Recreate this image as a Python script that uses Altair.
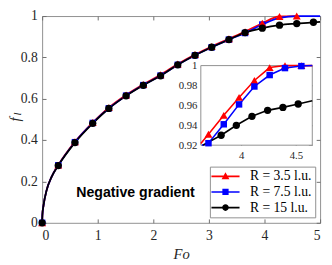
import altair as alt
import pandas as pd

series = ["R = 3.5 l.u.", "R = 7.5 l.u.", "R = 15 l.u."]
colors = ["#ff0000", "#0000ff", "#000000"]

# ---- main plot: marker points ----
fo_main = [0, 0.29, 0.59, 0.91, 1.20, 1.51, 1.82, 2.13, 2.44, 2.75, 3.05, 3.36, 3.65, 3.96, 4.27, 4.58, 4.88]
f_red = [0, 0.279, 0.392, 0.485, 0.557, 0.618, 0.669, 0.716, 0.768, 0.814, 0.853, 0.890, 0.925, 0.965, 0.998, 1.0]
f_blue = [0, 0.278, 0.390, 0.483, 0.554, 0.615, 0.666, 0.712, 0.764, 0.810, 0.849, 0.886, 0.918, 0.959]
f_black = [0, 0.277, 0.388, 0.481, 0.553, 0.614, 0.665, 0.711, 0.764, 0.810, 0.849, 0.886, 0.920, 0.9415, 0.956, 0.9635, 0.970]

# line-only points: steep start near Fo = 0, and the tails without markers
fo_start = [0.005, 0.025, 0.08, 0.17]
f_start = [0.04, 0.084, 0.157, 0.222]
fo_red_end, f_red_end = [], []
fo_blue_end, f_blue_end = [4.27, 4.58, 5.0], [0.991, 1.0, 1.0]
fo_black_end, f_black_end = [5.0], [0.972]

# ---- inset ----
ins_fo_rb = [3.70, 3.84, 3.98, 4.12, 4.26, 4.40, 4.55]
ins_red = [0.931, 0.950, 0.968, 0.985, 0.998, 1.0, 1.0]
ins_blue = [0.922, 0.941, 0.961, 0.979, 0.9905, 0.9975, 0.9995]
ins_fo_k = [3.816, 3.955, 4.098, 4.241, 4.381, 4.521]
ins_black = [0.930, 0.940, 0.949, 0.955, 0.958, 0.9614]
ins_entry_fo = [3.63, 3.64, 3.65]
ins_entry_f = [0.9217, 0.920, 0.920]
ins_exit_fo = [4.65, 4.65, 4.65]
ins_exit_f = [1.0, 1.0, 0.9646]

x_ticks = [0, 1, 2, 3, 4, 5]
y_ticks = [0, 0.2, 0.4, 0.6, 0.8, 1]
ins_x_ticks = [4, 4.5]
ins_y_ticks = [0.92, 0.94, 0.96, 0.98, 1]
X_DOM = [0, 5]
Y_DOM = [0, 1]
INS_X_DOM = [3.63, 4.65]
INS_Y_DOM = [0.92, 1.0]

# ---- build tables ----
main_vals = [f_red, f_blue, f_black]
ends = [(fo_red_end, f_red_end), (fo_blue_end, f_blue_end), (fo_black_end, f_black_end)]
pts_rows, line_rows = [], []
for i, s in enumerate(series):
    vals = main_vals[i]
    for fo, f in zip(fo_main[:len(vals)], vals):
        pts_rows.append({"series": s, "Fo": fo, "f": f})
    xs = [0] + fo_start + fo_main[1:len(vals)] + ends[i][0]
    ys = [0] + f_start + vals[1:] + ends[i][1]
    for fo, f in zip(xs, ys):
        line_rows.append({"series": s, "Fo": fo, "f": f})
pts = pd.DataFrame(pts_rows)
lines = pd.DataFrame(line_rows)

ins_pts_rows, ins_line_rows = [], []
ins_sets = [(ins_fo_rb, ins_red), (ins_fo_rb, ins_blue), (ins_fo_k, ins_black)]
for i, s in enumerate(series):
    xs, ys = ins_sets[i]
    for fo, f in zip(xs, ys):
        ins_pts_rows.append({"series": s, "Fo": fo, "f": f})
    lx = [ins_entry_fo[i]] + xs + [ins_exit_fo[i]]
    ly = [ins_entry_f[i]] + ys + [ins_exit_f[i]]
    for fo, f in zip(lx, ly):
        ins_line_rows.append({"series": s, "Fo": fo, "f": f})
ins_pts = pd.DataFrame(ins_pts_rows)
ins_lines = pd.DataFrame(ins_line_rows)

# ---- layout ----
W, H = 285, 212
IX0, IX1 = 162.7, 277.0
IY_TOP, IY_BOT = 50.8, 132.4
FRAME = "#8f8f8f"
TXT = "#262626"
TICK = "#6e6e6e"

color_scale = alt.Scale(domain=series, range=colors)
xs_main = alt.Scale(domain=X_DOM, nice=False, zero=False)
ys_main = alt.Scale(domain=Y_DOM, nice=False, zero=False)
xs_ins = alt.Scale(domain=INS_X_DOM, range=[IX0, IX1], nice=False, zero=False)
ys_ins = alt.Scale(domain=INS_Y_DOM, range=[IY_BOT, IY_TOP], nice=False, zero=False)

def tick_axis(orient, offset, values):
    return alt.Axis(orient=orient, offset=offset, values=values, labels=False,
                    domain=False, grid=False, ticks=True, tickSize=4,
                    tickColor=TICK, tickWidth=1, title=None)

marker = {"triangle-up": 66, "square": 44, "circle": 56}
shapes = ["triangle-up", "square", "circle"]

def point_layer(df, i, xscale, yscale, xaxis, yaxis):
    return alt.Chart(df[df.series == series[i]]).mark_point(
        shape=shapes[i], filled=True, size=marker[shapes[i]], opacity=1,
        color=colors[i]).encode(
        x=alt.X("Fo:Q", scale=xscale, axis=xaxis),
        y=alt.Y("f:Q", scale=yscale, axis=yaxis))

def line_layer(df, i, xscale, yscale, xaxis, yaxis, width, interp):
    return alt.Chart(df[df.series == series[i]]).mark_line(
        strokeWidth=width, interpolate=interp, color=colors[i]).encode(
        x=alt.X("Fo:Q", scale=xscale, axis=xaxis),
        y=alt.Y("f:Q", scale=yscale, axis=yaxis),
        order=alt.Order("Fo:Q"))

main_x_axis = alt.Axis(
    values=x_ticks, ticks=False, domain=False, grid=False, labelPadding=6,
    title="Fo", titleFont="Liberation Serif", titleFontStyle="italic",
    titleFontWeight="normal", titleFontSize=15, titleColor=TXT, titlePadding=5)
main_y_axis = alt.Axis(values=y_ticks, ticks=False, domain=False, grid=False,
                       format="~g", labelPadding=5, title=None)

l_red = line_layer(lines, 0, xs_main, ys_main, main_x_axis, main_y_axis, 1.8, "monotone")
l_blue = line_layer(lines, 1, xs_main, ys_main, None, None, 1.8, "monotone")
l_black = line_layer(lines, 2, xs_main, ys_main, None, None, 1.8, "monotone")
p_red = point_layer(pts, 0, xs_main, ys_main, tick_axis("top", -H, x_ticks), tick_axis("right", -W, y_ticks))
p_blue = point_layer(pts, 1, xs_main, ys_main, tick_axis("bottom", -H, x_ticks), tick_axis("left", -W, y_ticks))
p_black = point_layer(pts, 2, xs_main, ys_main, None, None)

note = alt.Chart(pd.DataFrame({"t": ["Negative gradient"]})).mark_text(
    align="left", baseline="middle", font="Liberation Sans", fontWeight="bold",
    fontSize=14.5, color="black").encode(x=alt.value(35), y=alt.value(181.5), text="t:N")

ytitle_f = alt.Chart(pd.DataFrame({"t": ["f"]})).mark_text(
    angle=270, align="center", baseline="middle", font="Liberation Serif",
    fontStyle="italic", fontSize=15, color=TXT).encode(
    x=alt.value(-28), y=alt.value(106), text="t:N")
ytitle_l = alt.Chart(pd.DataFrame({"t": ["l"]})).mark_text(
    angle=270, align="center", baseline="middle", font="Liberation Serif",
    fontStyle="italic", fontSize=11, color=TXT).encode(
    x=alt.value(-24.5), y=alt.value(100.5), text="t:N")

main = alt.layer(l_red, l_blue, l_black, p_blue, p_red, p_black, note,
                 ytitle_f, ytitle_l).resolve_axis(x="independent", y="independent")

# ---- inset ----
ins_bg = alt.Chart(pd.DataFrame({"a": [0]})).mark_rect(
    fill="white", stroke=FRAME, strokeWidth=1).encode(
    x=alt.X(datum=INS_X_DOM[0], scale=xs_ins, axis=None),
    x2=alt.X2(datum=INS_X_DOM[1]),
    y=alt.Y(datum=INS_Y_DOM[0], scale=ys_ins, axis=None),
    y2=alt.Y2(datum=INS_Y_DOM[1]),
)
ins_x_axis = alt.Axis(orient="bottom", offset=IY_BOT - H, values=ins_x_ticks, ticks=False,
                      format="~g", domain=False, grid=False, labelFontSize=11,
                      labelPadding=5, title=None)
ins_y_axis = alt.Axis(orient="left", offset=-IX0, values=ins_y_ticks, ticks=False,
                      format="~g", domain=False, grid=False, labelFontSize=11,
                      labelPadding=4, title=None)
il_red = line_layer(ins_lines, 0, xs_ins, ys_ins, ins_x_axis, ins_y_axis, 1.6, "linear")
il_blue = line_layer(ins_lines, 1, xs_ins, ys_ins, None, None, 1.6, "linear")
il_black = line_layer(ins_lines, 2, xs_ins, ys_ins, None, None, 1.6, "linear")
ip_red = point_layer(ins_pts, 0, xs_ins, ys_ins, tick_axis("top", -IY_BOT, ins_x_ticks),
                     tick_axis("right", IX0 - W, ins_y_ticks))
ip_blue = point_layer(ins_pts, 1, xs_ins, ys_ins, tick_axis("bottom", IY_TOP - H, ins_x_ticks),
                      tick_axis("left", -IX1, ins_y_ticks))
ip_black = point_layer(ins_pts, 2, xs_ins, ys_ins, None, None)

inset = alt.layer(ins_bg, il_red, il_blue, il_black, ip_red, ip_blue, ip_black).resolve_axis(
    x="independent", y="independent")

# legend: invisible layer whose symbols are line segment + marker (custom paths)
L = "M-3.6,-0.21H3.6V0.21H-3.6Z"
leg_paths = [
    L + "M0,-1.05L1.0,0.75L-1.0,0.75Z",
    L + "M-0.8,-0.8H0.8V0.8H-0.8Z",
    L + "M0.85,0A0.85,0.85,0,1,1,-0.85,0A0.85,0.85,0,1,1,0.85,0Z",
]
leg = alt.Legend(
    orient="none", legendX=172, legendY=154.4, title=None,
    fillColor="white", strokeColor=FRAME, padding=3, cornerRadius=0,
    labelFont="Liberation Serif", labelFontSize=14, labelColor="black",
    symbolSize=64, symbolOpacity=1, symbolStrokeWidth=0,
    symbolOffset=6, labelOffset=18, rowPadding=2)
legend_layer = alt.Chart(pts).mark_point(filled=True, opacity=0).encode(
    x=alt.X("Fo:Q", scale=xs_main, axis=None),
    y=alt.Y("f:Q", scale=ys_main, axis=None),
    color=alt.Color("series:N", scale=color_scale, legend=leg),
    shape=alt.Shape("series:N", scale=alt.Scale(domain=series, range=leg_paths), legend=leg),
)

chart = alt.layer(main, inset, legend_layer).resolve_scale(
    x="independent", y="independent"
).properties(
    width=W, height=H,
    autosize=alt.AutoSizeParams(type="none"),
    padding={"left": 35, "top": 5, "right": 4, "bottom": 40},
).configure_view(stroke=FRAME, strokeWidth=1).configure_axis(
    labelFont="Liberation Serif", labelFontSize=14, labelColor=TXT,
)

chart.save("out.html", embed_options={"renderer": "svg", "actions": False})
